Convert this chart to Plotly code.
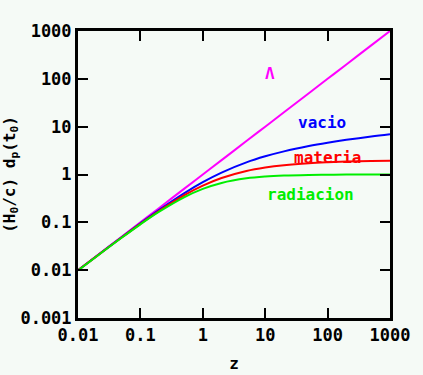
import math
import plotly.graph_objects as go

z = [0.01, 0.02, 0.05, 0.1, 0.2, 0.5, 1, 2, 5, 10, 20, 50, 100, 200, 500, 1000]
lambda_dp = [0.01, 0.02, 0.05, 0.1, 0.2, 0.5, 1, 2, 5, 10, 20, 50, 100, 200, 500, 1000]
vacio_dp = [0.00995, 0.0198, 0.0488, 0.0953, 0.182, 0.405, 0.693, 1.099, 1.792, 2.398,
            3.045, 3.932, 4.615, 5.303, 6.217, 6.909]
materia_dp = [0.00993, 0.0197, 0.0482, 0.0931, 0.1743, 0.367, 0.586, 0.845, 1.183, 1.397,
              1.564, 1.720, 1.801, 1.859, 1.911, 1.937]
radiacion_dp = [0.0099, 0.0196, 0.0476, 0.0909, 0.1667, 0.333, 0.5, 0.667, 0.833, 0.909,
                0.952, 0.980, 0.990, 0.995, 0.998, 0.999]

x_ticks = [0.01, 0.1, 1, 10, 100, 1000]
x_tick_text = ["0.01", "0.1", "1", "10", "100", "1000"]
y_ticks = [0.001, 0.01, 0.1, 1, 10, 100, 1000]
y_tick_text = ["0.001", "0.01", "0.1", "1", "10", "100", "1000"]

FONT = "DejaVu Sans Mono"
BG = "#f5faf6"

series = [
    ("Λ", lambda_dp, "#ff00ff", 11.9, 132),
    ("vacio", vacio_dp, "#0000ff", 81, 12.5),
    ("materia", materia_dp, "#ff0000", 101, 2.3),
    ("radiacion", radiacion_dp, "#00ee00", 54, 0.39),
]

fig = go.Figure()
for name, vals, col, lx, ly in series:
    fig.add_trace(go.Scatter(x=z, y=vals, mode="lines", line=dict(color=col, width=2),
                             line_shape="spline", name=name, showlegend=False))
    fig.add_annotation(x=math.log10(lx), y=math.log10(ly), xref="x", yref="y",
                       text="<b>%s</b>" % name, showarrow=False,
                       font=dict(family=FONT, size=16, color=col))

axis_common = dict(
    type="log", showgrid=False, zeroline=False, showline=True, linecolor="black",
    linewidth=3, mirror="ticks", ticks="inside", ticklen=10, tickwidth=2,
    tickcolor="black", tickfont=dict(family=FONT, size=17, color="black"),
    automargin=False,
)

fig.update_xaxes(range=[-2, 3], tickvals=x_ticks,
                 ticktext=["<b>%s</b>" % t for t in x_tick_text],
                 title=dict(text="<b>z</b>", font=dict(family=FONT, size=16, color="black"),
                            standoff=14),
                 **axis_common)
fig.update_yaxes(range=[-3, 3], tickvals=y_ticks,
                 ticktext=["<b>%s</b>" % t for t in y_tick_text],
                 title=dict(text="<b>(H<sub>0</sub>/c) d<sub>p</sub>(t<sub>0</sub>)</b>",
                            font=dict(family=FONT, size=16, color="black"), standoff=4),
                 **axis_common)

fig.update_layout(
    width=423, height=375,
    margin=dict(l=78, r=33, t=31, b=57),
    paper_bgcolor=BG, plot_bgcolor=BG,
    showlegend=False,
)

fig.write_html(
    "out.html",
    config={"displayModeBar": False, "staticPlot": True},
    post_script="document.body.style.margin='0';document.body.style.background='%s';" % BG,
)
